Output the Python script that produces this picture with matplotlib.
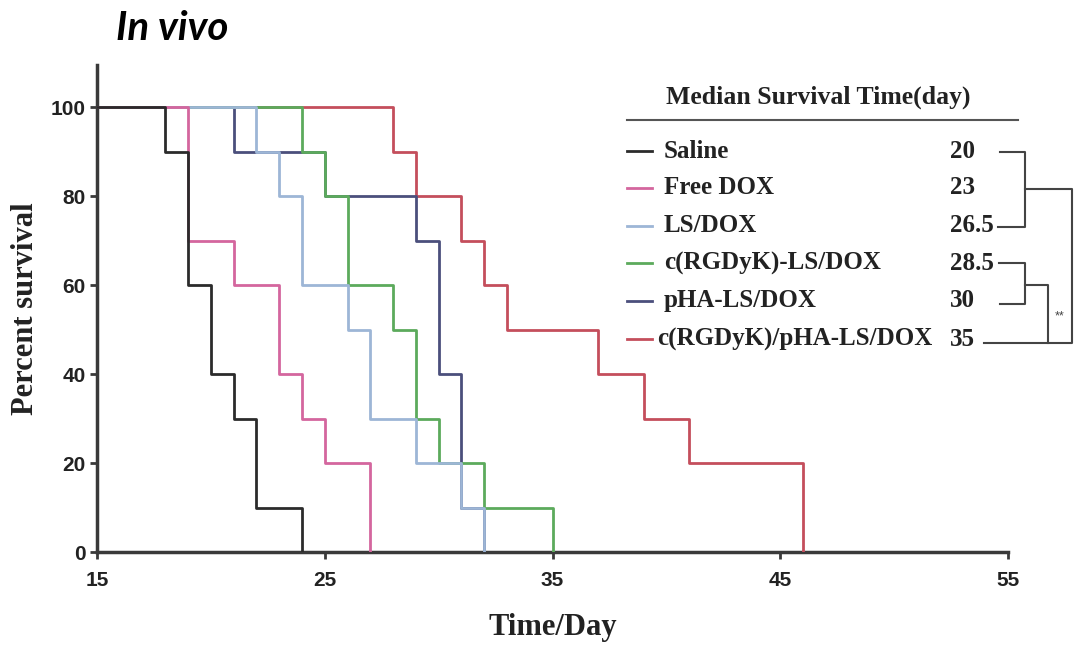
import matplotlib
matplotlib.use("Agg")
import matplotlib.pyplot as plt
from matplotlib.lines import Line2D

# Kaplan-Meier style data (day of each death step, survival after it)
groups = ["Saline", "Free DOX", "LS/DOX", "c(RGDyK)-LS/DOX", "pHA-LS/DOX", "c(RGDyK)/pHA-LS/DOX"]
medians = ["20", "23", "26.5", "28.5", "30", "35"]
colors = ["#2b2b2b", "#d4669e", "#9db6d6", "#5caa5c", "#4b4f7c", "#c44e5c"]

saline_t = [18, 19, 20, 21, 22, 24]
saline_s = [90, 60, 40, 30, 10, 0]
free_t = [19, 21, 23, 24, 25, 27]
free_s = [70, 60, 40, 30, 20, 0]
ls_t = [22, 23, 24, 26, 27, 29, 31, 32]
ls_s = [90, 80, 60, 50, 30, 20, 10, 0]
rgd_t = [24, 25, 26, 28, 29, 30, 32, 35]
rgd_s = [90, 80, 60, 50, 30, 20, 10, 0]
pha_t = [21, 25, 29, 30, 31, 32]
pha_s = [90, 80, 70, 40, 10, 0]
combo_t = [28, 29, 31, 32, 33, 37, 39, 41, 46]
combo_s = [90, 80, 70, 60, 50, 40, 30, 20, 0]

times = [saline_t, free_t, ls_t, rgd_t, pha_t, combo_t]
survs = [saline_s, free_s, ls_s, rgd_s, pha_s, combo_s]

W, H = 1076, 648


def fx(x):
    return x / W


def fy(y):
    return 1 - y / H


fig = plt.figure(figsize=(W / 100, H / 100), dpi=100)
ax = fig.add_axes([fx(97), fy(552), fx(1008) - fx(97), fy(65) - fy(552)])

# draw from last group to first so Saline sits on top
for i in reversed(range(len(groups))):
    x = [15] + times[i]
    y = [100] + survs[i]
    ax.step(x, y, where="post", color=colors[i], linewidth=2, zorder=3 + (len(groups) - i))

ax.set_xlim(15, 55)
ax.set_ylim(0, 109.5)
ax.set_xticks([15, 25, 35, 45, 55])
ax.set_yticks([0, 20, 40, 60, 80, 100])
for s in ["top", "right"]:
    ax.spines[s].set_visible(False)
for s in ["left", "bottom"]:
    ax.spines[s].set_linewidth(2.5)
    ax.spines[s].set_color("#3a3a3a")
ax.tick_params(axis="both", direction="out", length=5, width=2, color="#3a3a3a")
ax.tick_params(axis="x", pad=9)
ax.tick_params(axis="y", pad=3)
for lab in ax.get_xticklabels() + ax.get_yticklabels():
    lab.set_fontfamily("Liberation Sans")
    lab.set_fontweight("bold")
    lab.set_fontsize(15)
    lab.set_color("#222222")

ax.set_xlabel("Time/Day", fontfamily="Liberation Serif", fontweight="bold", fontsize=22,
              color="#222222", labelpad=16)
ax.set_ylabel("Percent survival", fontfamily="Liberation Serif", fontweight="bold", fontsize=22,
              color="#222222", labelpad=8)

# title
fig.text(fx(116), fy(28), "In vivo", fontfamily="Lato", fontweight="bold", fontstyle="italic",
         fontsize=29, va="center", ha="left", color="black")

# legend table
fig.text(fx(818), fy(97), "Median Survival Time(day)", fontfamily="Liberation Serif",
         fontweight="bold", fontsize=18.5, ha="center", va="center", color="#222222")
fig.add_artist(Line2D([fx(627), fx(1018)], [fy(120), fy(120)], color="#555555", linewidth=1.5))

row_y = [151, 188, 226, 263, 301, 339]
for i, g in enumerate(groups):
    yy = row_y[i]
    fig.add_artist(Line2D([fx(627), fx(652)], [fy(yy), fy(yy)], color=colors[i], linewidth=2))
    lx = 657 if i == len(groups) - 1 else 664
    fig.text(fx(lx), fy(yy), g, fontfamily="Liberation Serif", fontweight="bold", fontsize=18,
             ha="left", va="center", color="#222222")
    fig.text(fx(950), fy(yy), medians[i], fontfamily="Liberation Serif", fontweight="bold",
             fontsize=18, ha="left", va="center", color="#222222")

# significance brackets
bk = dict(color="#444444", linewidth=1.5)
fig.add_artist(Line2D([fx(1000), fx(1025), fx(1025), fx(998)],
                      [fy(152), fy(152), fy(227), fy(227)], **bk))
fig.add_artist(Line2D([fx(1025), fx(1072), fx(1072), fx(984)],
                      [fy(189), fy(189), fy(343), fy(343)], **bk))
fig.add_artist(Line2D([fx(999), fx(1025), fx(1025), fx(1000)],
                      [fy(263), fy(263), fy(304), fy(304)], **bk))
fig.add_artist(Line2D([fx(1025), fx(1048), fx(1048)],
                      [fy(285), fy(285), fy(343)], **bk))
fig.text(fx(1060), fy(316), "**", fontfamily="Liberation Sans", fontsize=9, ha="center",
         va="center", color="#444444")

fig.savefig("out.png", dpi=100)
